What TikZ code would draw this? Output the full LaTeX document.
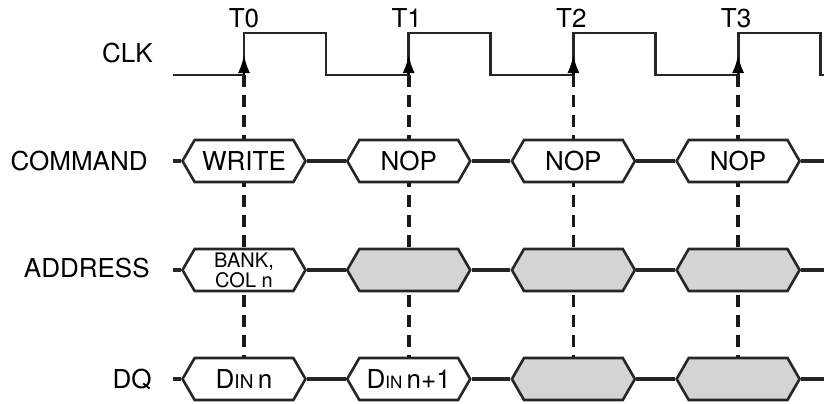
\documentclass[tikz,border=0pt]{standalone}
\usepackage{fontspec}
\setmainfont{TeX Gyre Heros}
\usetikzlibrary{shapes.symbols,arrows.meta,backgrounds}

\tikzset{
  hexbox/.style={shape=signal, signal to=east and west, signal pointer angle=120,
    draw=black!85, line width=1.3pt, fill=white, minimum width=61.5pt,
    minimum height=21pt, inner sep=0pt, font=\fontsize{13}{14}\selectfont},
  busy/.style={hexbox, fill=black!17},
  wire/.style={line width=1.6pt, color=black!85},
  tick/.style={dash pattern=on 6pt off 4pt, line width=1.8pt, color=black!90},
  rowlbl/.style={anchor=east, inner sep=0pt, font=\fontsize{13}{14}\selectfont},
}

\begin{document}
\begin{tikzpicture}[x=0.5pt,y=-0.5pt]
\useasboundingbox (0,0) rectangle (824,403);

% rising edges of the clock
\coordinate (e0) at (244,75);
\coordinate (e1) at (408.7,75);
\coordinate (e2) at (573.4,75);
\coordinate (e3) at (738.1,75);

% row names
\node[rowlbl] (clk) at (153,53) {CLK};
\node[rowlbl] (cmd) at (148,161) {COMMAND};
\node[rowlbl] (adr) at (150,268) {ADDRESS};
\node[rowlbl] (dq) at (152,379) {DQ};

% edge names
\node[font=\fontsize{13}{14}\selectfont] (t0) at (244,18) {T0};
\node[font=\fontsize{13}{14}\selectfont] (t1) at (406.7,18) {T1};
\node[font=\fontsize{13}{14}\selectfont] (t2) at (571.4,18) {T2};
\node[font=\fontsize{13}{14}\selectfont] (t3) at (736.1,18) {T3};

% clock
\draw[line width=1.4pt, color=black!85] (173,75) -- (244,75) -- (244,33) -- (326,33) -- (326,75)
  -- (408.7,75) -- (408.7,33) -- (490.7,33) -- (490.7,75)
  -- (573.4,75) -- (573.4,33) -- (655.4,33) -- (655.4,75)
  -- (738.1,75) -- (738.1,33) -- (820.1,33) -- (820.1,75) -- (824,75);

% COMMAND row
\node[hexbox] (cmd0) at (244,161) {WRITE};
\node[hexbox] (cmd1) at (408.7,161) {NOP};
\node[hexbox] (cmd2) at (573.4,161) {NOP};
\node[hexbox] (cmd3) at (738.1,161) {NOP};
\coordinate (cmds) at (173,161);
\coordinate (cmde) at (824,161);
\draw[wire] (cmds) -- (cmd0.west);
\draw[wire] (cmd0.east) -- (cmd1.west);
\draw[wire] (cmd1.east) -- (cmd2.west);
\draw[wire] (cmd2.east) -- (cmd3.west);
\draw[wire] (cmd3.east) -- (cmde);

% ADDRESS row
\node[hexbox, align=center, font=\fontsize{10}{10}\selectfont] (adr0) at (244,270) {BANK,\\COL n};
\node[busy] (adr1) at (408.7,270) {};
\node[busy] (adr2) at (573.4,270) {};
\node[busy] (adr3) at (738.1,270) {};
\coordinate (adrs) at (173,270);
\coordinate (adre) at (824,270);
\draw[wire] (adrs) -- (adr0.west);
\draw[wire] (adr0.east) -- (adr1.west);
\draw[wire] (adr1.east) -- (adr2.west);
\draw[wire] (adr2.east) -- (adr3.west);
\draw[wire] (adr3.east) -- (adre);

% DQ row
\node[hexbox] (dq0) at (244,379) {D{\fontsize{9.5}{10}\selectfont IN}\,n};
\node[hexbox] (dq1) at (408.7,379) {D{\fontsize{8.5}{10}\selectfont IN}\,n+1};
\node[busy] (dq2) at (573.4,379) {};
\node[busy] (dq3) at (738.1,379) {};
\coordinate (dqs) at (173,379);
\coordinate (dqe) at (824,379);
\draw[wire] (dqs) -- (dq0.west);
\draw[wire] (dq0.east) -- (dq1.west);
\draw[wire] (dq1.east) -- (dq2.west);
\draw[wire] (dq2.east) -- (dq3.west);
\draw[wire] (dq3.east) -- (dqe);

% dashed lines from each edge, behind the boxes
\begin{scope}[on background layer]
\draw[tick] (e0) -- (dq0.north);
\draw[tick] (e1) -- (dq1.north);
\draw[tick] (e2) -- (dq2.north);
\draw[tick] (e3) -- (dq3.north);
\end{scope}

% arrows on the rising edges
\draw[-{Latex[length=9pt,width=6pt]}, line width=1.2pt] (e0) -- ++(0,-20);
\draw[-{Latex[length=9pt,width=6pt]}, line width=1.2pt] (e1) -- ++(0,-20);
\draw[-{Latex[length=9pt,width=6pt]}, line width=1.2pt] (e2) -- ++(0,-20);
\draw[-{Latex[length=9pt,width=6pt]}, line width=1.2pt] (e3) -- ++(0,-20);

\end{tikzpicture}
\end{document}
